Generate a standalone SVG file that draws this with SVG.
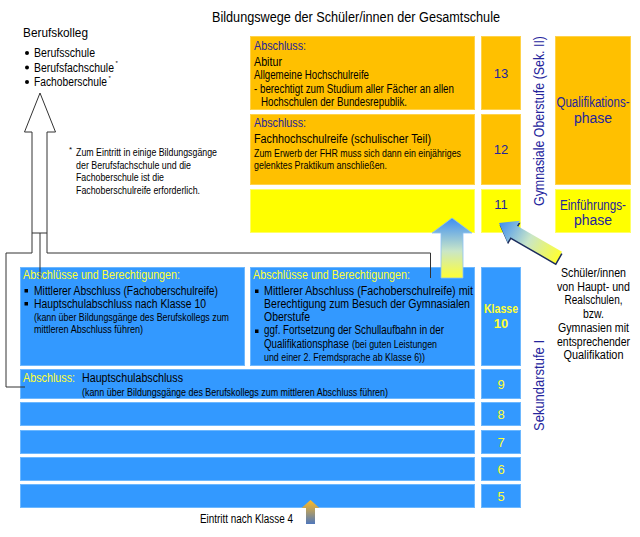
<svg xmlns="http://www.w3.org/2000/svg" width="640" height="537" viewBox="0 0 640 537">
<style>
text{font-family:"Liberation Sans",Arial,sans-serif;}
.or{fill:#FFC000;stroke:#FFD24A;stroke-width:1;}
.ye{fill:#FFFF00;stroke:#FFFF66;stroke-width:1;}
.bl{fill:#3399FF;stroke:#6DB8FF;stroke-width:1;}
.db{fill:#24249C;}
.yt{fill:#FFFF33;}
.k{fill:#000;}
.s125{font-size:12.5px;}
.s12{font-size:12px;}
.s11{font-size:11px;}
.s105{font-size:10.5px;}
.s13{font-size:13px;}
.s14{font-size:14px;}
.mid{text-anchor:middle;}
.ln{fill:none;stroke:#333;stroke-width:1;}
</style>
<defs>
<linearGradient id="gUp" x1="0" y1="0" x2="0" y2="1">
<stop offset="0" stop-color="#3D8EF2"/>
<stop offset="0.55" stop-color="#C9E6C8"/>
<stop offset="1" stop-color="#FFFF33"/>
</linearGradient>
<linearGradient id="gDiag" gradientUnits="userSpaceOnUse" x1="0" y1="0" x2="69" y2="0">
<stop offset="0" stop-color="#3D8EF2"/>
<stop offset="0.5" stop-color="#C9E6C8"/>
<stop offset="1" stop-color="#FFFF33"/>
</linearGradient>
<linearGradient id="gSmall" x1="0" y1="0" x2="0" y2="1">
<stop offset="0" stop-color="#FFBB22"/>
<stop offset="1" stop-color="#4F77BB"/>
</linearGradient>
</defs>

<g id="title">
<text x="212" y="22" class="k s14" textLength="288" lengthAdjust="spacingAndGlyphs">Bildungswege der Schüler/innen der Gesamtschule</text>
</g>

<g id="berufskolleg">
<text x="23" y="37" class="k s13" textLength="65" lengthAdjust="spacingAndGlyphs">Berufskolleg</text>
<circle cx="27" cy="53" r="2" fill="#000"/>
<circle cx="27" cy="67.5" r="2" fill="#000"/>
<circle cx="27" cy="82" r="2" fill="#000"/>
<text x="34" y="57" class="k s12" textLength="61" lengthAdjust="spacingAndGlyphs">Berufsschule</text>
<text x="34" y="71.5" class="k s12" textLength="80" lengthAdjust="spacingAndGlyphs">Berufsfachschule</text>
<text x="115.5" y="65" class="k" font-size="6">*</text>
<text x="34" y="86" class="k s12" textLength="73" lengthAdjust="spacingAndGlyphs">Fachoberschule</text>
<text x="108.5" y="79.5" class="k" font-size="6">*</text>
</g>

<g id="footnote">
<text x="69" y="152" class="k" font-size="8">*</text>
<text x="76" y="156" class="k s11" textLength="141" lengthAdjust="spacingAndGlyphs">Zum Eintritt in einige Bildungsgänge</text>
<text x="76" y="168.5" class="k s11" textLength="115" lengthAdjust="spacingAndGlyphs">der Berufsfachschule und die</text>
<text x="76" y="181" class="k s11" textLength="88" lengthAdjust="spacingAndGlyphs">Fachoberschule ist die</text>
<text x="76" y="193.5" class="k s11" textLength="124" lengthAdjust="spacingAndGlyphs">Fachoberschulreife erforderlich.</text>
</g>

<g id="abitur">
<rect x="250.5" y="36.5" width="224" height="73" class="or"/>
<text x="254" y="50" class="db s125" textLength="52" lengthAdjust="spacingAndGlyphs">Abschluss:</text>
<text x="254" y="66" class="k s125" textLength="28" lengthAdjust="spacingAndGlyphs">Abitur</text>
<text x="254" y="78.5" class="k s12" textLength="115" lengthAdjust="spacingAndGlyphs">Allgemeine Hochschulreife</text>
<text x="254" y="92.5" class="k s12" textLength="200" lengthAdjust="spacingAndGlyphs">- berechtigt zum Studium aller Fächer an allen</text>
<text x="261" y="106" class="k s12" textLength="146" lengthAdjust="spacingAndGlyphs">Hochschulen der Bundesrepublik.</text>
</g>

<g id="fhr">
<rect x="250.5" y="114.5" width="224" height="70" class="or"/>
<text x="254" y="127" class="db s125" textLength="52" lengthAdjust="spacingAndGlyphs">Abschluss:</text>
<text x="254" y="142.5" class="k s125" textLength="177" lengthAdjust="spacingAndGlyphs">Fachhochschulreife (schulischer Teil)</text>
<text x="254" y="156.5" class="k s11" textLength="207" lengthAdjust="spacingAndGlyphs">Zum Erwerb der FHR muss sich dann ein einjähriges</text>
<text x="254" y="168.5" class="k s11" textLength="133" lengthAdjust="spacingAndGlyphs">gelenktes Praktikum anschließen.</text>
</g>

<g id="einf-left">
<rect x="250.5" y="189.5" width="224" height="43" class="ye"/>
</g>

<g id="k13"><rect x="481.5" y="36.5" width="39" height="73" class="or"/><text x="501" y="78" class="db s13 mid">13</text></g>
<g id="k12"><rect x="481.5" y="114.5" width="39" height="70" class="or"/><text x="501" y="154" class="db s13 mid">12</text></g>
<g id="k11"><rect x="481.5" y="189.5" width="39" height="43" class="ye"/><text x="501" y="209" class="db s13 mid">11</text></g>

<g id="sek2">
<text transform="translate(544,206) rotate(-90)" class="db s14" textLength="170" lengthAdjust="spacingAndGlyphs">Gymnasiale Oberstufe (Sek. II)</text>
</g>

<g id="qualifikationsphase">
<rect x="555.5" y="36.5" width="75" height="148" class="or"/>
<text x="593" y="107" class="db s14 mid" textLength="73" lengthAdjust="spacingAndGlyphs">Qualifikations-</text>
<text x="593" y="122.5" class="db s14 mid">phase</text>
</g>

<g id="einfuehrungsphase">
<rect x="555.5" y="189.5" width="75" height="43" class="ye"/>
<text x="593" y="210" class="db s14 mid" textLength="66" lengthAdjust="spacingAndGlyphs">Einführungs-</text>
<text x="593" y="225" class="db s14 mid">phase</text>
</g>

<g id="box-left10">
<rect x="20.5" y="267.5" width="224" height="98" class="bl"/>
<text x="23" y="279" class="yt s125" textLength="157" lengthAdjust="spacingAndGlyphs">Abschlüsse und Berechtigungen:</text>
<rect x="24.5" y="289" width="3.5" height="3.5" fill="#000"/>
<rect x="24.5" y="302" width="3.5" height="3.5" fill="#000"/>
<text x="34" y="294.5" class="k s125" textLength="184" lengthAdjust="spacingAndGlyphs">Mittlerer Abschluss (Fachoberschulreife)</text>
<text x="34" y="307.5" class="k s125" textLength="172" lengthAdjust="spacingAndGlyphs">Hauptschulabschluss nach Klasse 10</text>
<text x="34" y="321" class="k s105" textLength="195" lengthAdjust="spacingAndGlyphs">(kann über Bildungsgänge des Berufskollegs zum</text>
<text x="34" y="333" class="k s105" textLength="109" lengthAdjust="spacingAndGlyphs">mittleren Abschluss führen)</text>
</g>

<g id="box-mid10">
<rect x="250.5" y="267.5" width="224" height="98" class="bl"/>
<text x="253" y="278.5" class="yt s125" textLength="157" lengthAdjust="spacingAndGlyphs">Abschlüsse und Berechtigungen:</text>
<rect x="255" y="289.5" width="3.5" height="3.5" fill="#000"/>
<rect x="255" y="329.5" width="3.5" height="3.5" fill="#000"/>
<text x="264" y="294.5" class="k s125" textLength="209" lengthAdjust="spacingAndGlyphs">Mittlerer Abschluss (Fachoberschulreife) mit</text>
<text x="264" y="307.5" class="k s125" textLength="206" lengthAdjust="spacingAndGlyphs">Berechtigung zum Besuch der Gymnasialen</text>
<text x="264" y="320.5" class="k s125" textLength="46" lengthAdjust="spacingAndGlyphs">Oberstufe</text>
<text x="264" y="334" class="k s125" textLength="180" lengthAdjust="spacingAndGlyphs">ggf. Fortsetzung der Schullaufbahn in der</text>
<text x="264" y="347.5" class="k s125" textLength="85" lengthAdjust="spacingAndGlyphs">Qualifikationsphase</text>
<text x="352" y="347.5" class="k s105" textLength="85" lengthAdjust="spacingAndGlyphs">(bei guten Leistungen</text>
<text x="264" y="360.5" class="k s105" textLength="161" lengthAdjust="spacingAndGlyphs">und einer 2. Fremdsprache ab Klasse 6))</text>
</g>

<g id="k10">
<rect x="481.5" y="267.5" width="39" height="98" class="bl"/>
<text x="501" y="313" class="yt s13 mid" font-weight="bold" textLength="34" lengthAdjust="spacingAndGlyphs">Klasse</text>
<text x="501" y="327.5" class="yt s13 mid" font-weight="bold">10</text>
</g>

<g id="row9">
<rect x="20.5" y="369.5" width="454" height="29" class="bl"/>
<text x="23" y="381.5" class="yt s125" textLength="52" lengthAdjust="spacingAndGlyphs">Abschluss:</text>
<text x="82" y="381.5" class="k s125" textLength="101" lengthAdjust="spacingAndGlyphs">Hauptschulabschluss</text>
<text x="82" y="395.5" class="k s105" textLength="306" lengthAdjust="spacingAndGlyphs">(kann über Bildungsgänge des Berufskollegs zum mittleren Abschluss führen)</text>
</g>
<g id="k9"><rect x="481.5" y="369.5" width="39" height="29" class="bl"/><text x="501" y="388.5" class="yt s13 mid">9</text></g>

<g id="row8"><rect x="20.5" y="402.5" width="454" height="23" class="bl"/></g>
<g id="k8"><rect x="481.5" y="402.5" width="39" height="23" class="bl"/><text x="501" y="419" class="yt s13 mid">8</text></g>
<g id="row7"><rect x="20.5" y="430.5" width="454" height="23" class="bl"/></g>
<g id="k7"><rect x="481.5" y="430.5" width="39" height="23" class="bl"/><text x="501" y="447" class="yt s13 mid">7</text></g>
<g id="row6"><rect x="20.5" y="457.5" width="454" height="23" class="bl"/></g>
<g id="k6"><rect x="481.5" y="457.5" width="39" height="23" class="bl"/><text x="501" y="474" class="yt s13 mid">6</text></g>
<g id="row5"><rect x="20.5" y="484.5" width="454" height="23" class="bl"/></g>
<g id="k5"><rect x="481.5" y="484.5" width="39" height="23" class="bl"/><text x="501" y="501" class="yt s13 mid">5</text></g>

<g id="sek1">
<text transform="translate(544,431) rotate(-90)" class="db s14" textLength="91" lengthAdjust="spacingAndGlyphs">Sekundarstufe I</text>
</g>

<g id="quereinsteiger">
<text x="593.5" y="277" class="k s12 mid" textLength="65" lengthAdjust="spacingAndGlyphs">Schüler/innen</text>
<text x="593.5" y="290.7" class="k s12 mid" textLength="73" lengthAdjust="spacingAndGlyphs">von Haupt- und</text>
<text x="593.5" y="304.4" class="k s12 mid" textLength="58" lengthAdjust="spacingAndGlyphs">Realschulen,</text>
<text x="593.5" y="318" class="k s12 mid" textLength="21" lengthAdjust="spacingAndGlyphs">bzw.</text>
<text x="593.5" y="331.8" class="k s12 mid" textLength="71" lengthAdjust="spacingAndGlyphs">Gymnasien mit</text>
<text x="593.5" y="345.5" class="k s12 mid" textLength="73" lengthAdjust="spacingAndGlyphs">entsprechender</text>
<text x="593.5" y="359.2" class="k s12 mid" textLength="60" lengthAdjust="spacingAndGlyphs">Qualifikation</text>
</g>

<g id="eintritt">
<text x="200" y="523" class="k s12" textLength="93" lengthAdjust="spacingAndGlyphs">Eintritt nach Klasse 4</text>
</g>

<g id="connectors">
<path d="M40,93 L55.5,132 L47,132 L47,233 L32,233 L32,132 L24.5,132 Z" fill="#fff" stroke="#333" stroke-width="1"/>
<polyline class="ln" points="32,233 32,253 6,253 6,387 25,387"/>
<polyline class="ln" points="47,233 47,253 430.5,253 430.5,278"/>
<line class="ln" x1="40" y1="233" x2="40" y2="279"/>
<path d="M452,218 L472,233 L463,233 L463,278 L441,278 L441,233 L432,233 Z" fill="url(#gUp)" stroke="#8EC0F5" stroke-width="0.8"/>
<g transform="translate(499,223) rotate(30)">
<path d="M1.5,1.5 L18.5,-11 L18.5,-5 L70.5,-5 L70.5,8 L18.5,8 L18.5,14 Z" fill="#1C2C5C"/>
<path d="M0,0 L17,-12.5 L17,-6.5 L69,-6.5 L69,6.5 L17,6.5 L17,12.5 Z" fill="url(#gDiag)"/>
</g>
<path d="M310.5,500 L319.5,508 L315,508 L315,524 L306,524 L306,508 L301.5,508 Z" fill="url(#gSmall)"/>
</g>
</svg>
